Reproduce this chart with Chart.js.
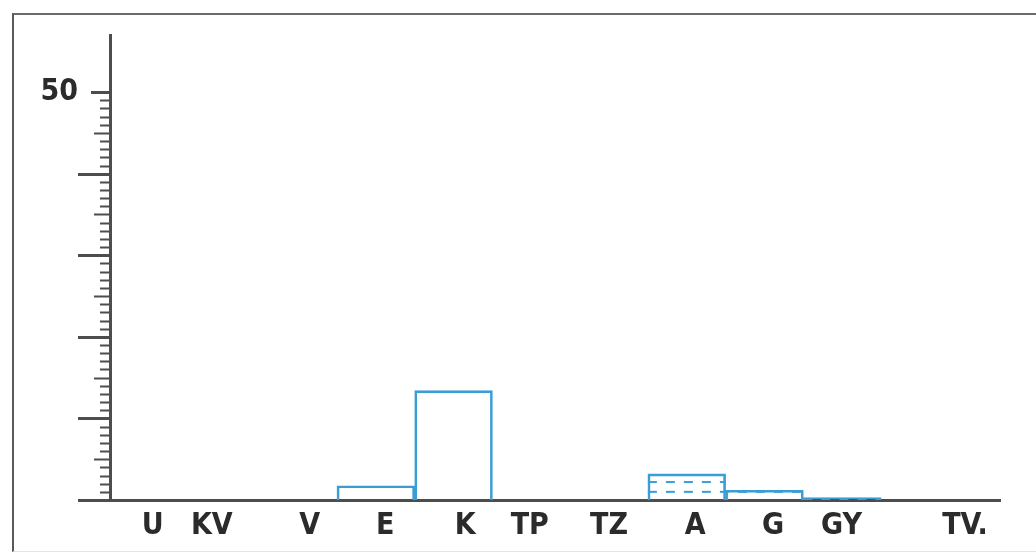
<!DOCTYPE html>
<html>
<head>
<meta charset="utf-8">
<script src="https://cdn.jsdelivr.net/npm/chart.js@4"></script>
<style>
  html, body { margin: 0; padding: 0; background: #fff; }
  #wrap { position: relative; width: 1036px; height: 554px; }
  #frame {
    position: absolute; left: 12px; top: 13px; right: 0; bottom: 2px;
    border-top: 2px solid #6a6a6a; border-left: 2px solid #5a5a5a;
    border-bottom: 1px solid #e4e4e4;
  }
  canvas { position: absolute; left: 0; top: 0; }
</style>
</head>
<body>
<div id="wrap">
  <div id="frame"></div>
  <canvas id="chart"></canvas>
</div>
<script>
// categories along the bottom, one slot each
const categories = ['U', 'KV', 'V', 'E', 'K', 'TP', 'TZ', 'A', 'G', 'GY', 'TV.']
// bar heights (null = no bar)
const values = [null, null, null, 1.75, 13.4, null, null, 3.2, 1.2, 0.3, null]
// where each category label sits, in slot units
const labelAt = [0.63, 1.39, 2.65, 3.62, 4.65, 5.48, 6.5, 7.61, 8.61, 9.49, 11.08]
// dashed divisions inside the bars
const dashFrom = [7, 7, 9]
const dashTo = [8, 9, 10]
const dashValue = [2.2, 1.0, 0.12]
// y axis: only 50 is labelled
const yLabelled = [50]
const yTickTop = 50

const blue = '#3a9ed6'
const axisColor = '#4d4d4d'
const textColor = '#2b2b2b'
const labelFont = "'DejaVu Sans Condensed', 'Liberation Sans Narrow', sans-serif"

const dashDatasets = dashValue.map((v, i) => ({
  type: 'line',
  data: [{ x: dashFrom[i], y: v }, { x: dashTo[i], y: v }],
  borderColor: blue,
  borderWidth: 2,
  borderDash: [9, 9],
  pointRadius: 0,
}))

// y ticks: long at tens, medium at fives, short otherwise
const yTickMarks = {
  id: 'yTickMarks',
  afterDraw(chart) {
    const { ctx, chartArea, scales: { y } } = chart
    const x0 = chartArea.left
    ctx.save()
    ctx.strokeStyle = axisColor
    for (let v = 0; v <= yTickTop; v++) {
      let len = 10
      ctx.lineWidth = 2
      if (v % 10 === 0) { len = v === yTickTop ? 19 : 32; ctx.lineWidth = 3 }
      else if (v % 5 === 0) { len = 16 }
      const py = Math.round(y.getPixelForValue(v)) + 0.5
      ctx.beginPath()
      ctx.moveTo(x0 - len, py)
      ctx.lineTo(x0, py)
      ctx.stroke()
    }
    ctx.restore()
  }
}

new Chart(document.getElementById('chart'), {
  type: 'bar',
  data: {
    datasets: [{
      data: values.map((v, i) => ({ x: i + 0.5, y: v })),
      backgroundColor: 'rgba(0,0,0,0)',
      borderColor: blue,
      borderWidth: 2,
      barThickness: 'flex',
      categoryPercentage: 1,
      barPercentage: 1,
    }, ...dashDatasets]
  },
  options: {
    responsive: true,
    maintainAspectRatio: false,
    animation: false,
    layout: { padding: { top: 35, right: 36, left: 0, bottom: 0 } },
    plugins: {
      legend: { display: false },
      tooltip: { enabled: false },
    },
    scales: {
      x: {
        type: 'linear',
        offset: false,
        min: 0.08,
        max: 11.53,
        grid: { display: false, offset: false },
        border: { display: true, color: axisColor, width: 3 },
        afterBuildTicks: s => { s.ticks = labelAt.map(value => ({ value })) },
        afterFit: s => { s.height = 54; s.paddingLeft = 0; s.paddingRight = 0 },
        ticks: {
          autoSkip: false,
          maxRotation: 0,
          padding: 0,
          color: textColor,
          font: { family: labelFont, size: 30, weight: 'bold' },
          callback: (v, i) => categories[i],
        },
      },
      y: {
        min: 0,
        max: 57,
        grid: { display: false },
        border: { display: true, color: axisColor, width: 3 },
        afterBuildTicks: s => { s.ticks = yLabelled.map(value => ({ value })) },
        afterFit: s => { s.width = 110; s.paddingTop = 0; s.paddingBottom = 0 },
        ticks: {
          autoSkip: false,
          padding: 24,
          color: textColor,
          font: { family: labelFont, size: 30, weight: 'bold' },
          callback: v => String(v),
        },
      },
    },
  },
  plugins: [yTickMarks],
})
</script>
</body>
</html>
